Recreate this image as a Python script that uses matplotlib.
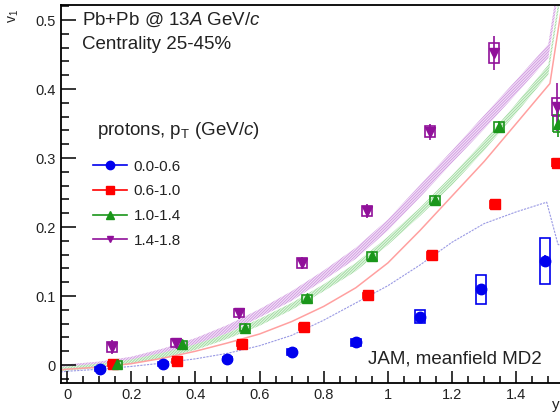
import matplotlib
matplotlib.use("Agg")
import matplotlib.pyplot as plt
from matplotlib.lines import Line2D
from matplotlib.patches import Rectangle
from matplotlib.ticker import MultipleLocator, FuncFormatter
import numpy as np

plt.rcParams['font.family'] = ['Liberation Sans', 'DejaVu Sans']
plt.rcParams['mathtext.fontset'] = 'custom'
plt.rcParams['mathtext.rm'] = 'Liberation Sans'
plt.rcParams['mathtext.it'] = 'Liberation Sans:italic'
plt.rcParams['mathtext.bf'] = 'Liberation Sans:bold'
plt.rcParams['hatch.linewidth'] = 0.6

# ---- measured v1 of protons vs rapidity, four pT bins ----
labels = ['0.0-0.6', '0.6-1.0', '1.0-1.4', '1.4-1.8']

blue_x = [0.103, 0.30, 0.50, 0.70, 0.90, 1.10, 1.29, 1.49]
blue_y = [-0.006, 0.001, 0.009, 0.019, 0.033, 0.070, 0.110, 0.151]
blue_stat = [0.002, 0.002, 0.002, 0.002, 0.003, 0.004, 0.006, 0.008]
blue_sys = [0.003, 0.003, 0.003, 0.004, 0.005, 0.0095, 0.021, 0.033]

red_x = [0.143, 0.343, 0.545, 0.738, 0.938, 1.137, 1.333, 1.526]
red_y = [0.001, 0.006, 0.030, 0.055, 0.101, 0.159, 0.233, 0.293]
red_stat = [0.002, 0.002, 0.003, 0.003, 0.003, 0.004, 0.005, 0.006]
red_sys = [0.003, 0.003, 0.003, 0.004, 0.004, 0.005, 0.005, 0.006]

green_x = [0.156, 0.358, 0.555, 0.748, 0.95, 1.146, 1.346, 1.53]
green_y = [0.001, 0.030, 0.054, 0.097, 0.158, 0.239, 0.345, 0.350]
green_stat = [0.003, 0.003, 0.004, 0.004, 0.005, 0.006, 0.008, 0.020]
green_sys = [0.005, 0.005, 0.005, 0.005, 0.006, 0.006, 0.007, 0.012]

purple_x = [0.14, 0.34, 0.536, 0.732, 0.935, 1.131, 1.33, 1.527]
purple_y = [0.026, 0.032, 0.075, 0.148, 0.223, 0.338, 0.452, 0.374]
purple_stat = [0.010, 0.006, 0.008, 0.009, 0.010, 0.012, 0.025, 0.035]
purple_sys = [0.007, 0.006, 0.006, 0.007, 0.007, 0.008, 0.0145, 0.013]

# ---- JAM (meanfield MD2) model curves ----
jam_purple_x = [-0.02, 0.0, 0.1, 0.2, 0.3, 0.4, 0.5, 0.6, 0.7, 0.8, 0.9, 1.0, 1.1, 1.2, 1.3, 1.4, 1.5, 1.535, 1.6]
jam_purple_y = [-0.004, -0.003, 0.001, 0.008, 0.019, 0.034, 0.052, 0.075, 0.100, 0.130, 0.162, 0.203, 0.252, 0.302, 0.352, 0.403, 0.455, 0.56, 0.60]
jam_purple_w = [0.004, 0.004, 0.004, 0.004, 0.005, 0.005, 0.006, 0.006, 0.007, 0.007, 0.008, 0.008, 0.009, 0.009, 0.010, 0.010, 0.010, 0.010, 0.010]

jam_green_x = [-0.02, 0.0, 0.1, 0.2, 0.3, 0.4, 0.5, 0.6, 0.7, 0.8, 0.9, 1.0, 1.1, 1.2, 1.3, 1.4, 1.5, 1.545, 1.6]
jam_green_y = [-0.006, -0.005, -0.001, 0.005, 0.014, 0.026, 0.042, 0.062, 0.085, 0.112, 0.142, 0.180, 0.222, 0.268, 0.318, 0.372, 0.428, 0.56, 0.60]
jam_green_w = [0.003, 0.003, 0.003, 0.003, 0.004, 0.004, 0.004, 0.005, 0.005, 0.005, 0.006, 0.006, 0.006, 0.007, 0.007, 0.007, 0.007, 0.007, 0.007]

jam_red_x = [-0.02, 0.0, 0.1, 0.2, 0.3, 0.4, 0.5, 0.6, 0.7, 0.8, 0.9, 1.0, 1.1, 1.2, 1.3, 1.4, 1.505, 1.555, 1.6]
jam_red_y = [-0.007, -0.006, -0.003, 0.002, 0.010, 0.020, 0.032, 0.045, 0.063, 0.085, 0.112, 0.148, 0.195, 0.245, 0.295, 0.350, 0.408, 0.56, 0.60]

jam_blue_x = [-0.02, 0.0, 0.1, 0.2, 0.3, 0.4, 0.5, 0.6, 0.7, 0.8, 0.9, 1.0, 1.1, 1.2, 1.3, 1.4, 1.495, 1.53, 1.6]
jam_blue_y = [-0.010, -0.009, -0.006, -0.002, 0.003, 0.009, 0.017, 0.028, 0.043, 0.065, 0.090, 0.115, 0.145, 0.178, 0.205, 0.222, 0.236, 0.175, 0.160]

C_BLUE = '#0000ee'
C_RED = '#ff0000'
C_GREEN = '#1a961a'
C_PURPLE = '#90109a'

fig = plt.figure(figsize=(5.6, 4.16), dpi=100)
ax = fig.add_axes([61 / 560, 33 / 416, 513 / 560, 378.5 / 416])
ax.set_xlim(-0.0187, 1.58)
ax.set_ylim(-0.026, 0.5225)

# model bands
def band(xs, ys, ws, face, hatch_col):
    xs = np.asarray(xs); ys = np.asarray(ys); ws = np.asarray(ws)
    ax.fill_between(xs, ys - ws, ys + ws, facecolor=face, linewidth=0, zorder=1)
    ax.fill_between(xs, ys - ws, ys + ws, facecolor='none', edgecolor=hatch_col,
                    hatch='/' * 12, linewidth=0, zorder=1)

band(jam_purple_x, jam_purple_y, jam_purple_w, '#f3e2f7', '#cf98e0')
band(jam_green_x, jam_green_y, jam_green_w, '#e4f5e4', '#9cda9c')
ax.plot(jam_red_x, jam_red_y, color='#ffa0a0', lw=1.1, zorder=1)
ax.plot(jam_blue_x, jam_blue_y, color='#9a9ae4', lw=0.8, ls=(0, (2, 1)), zorder=1)

# data with stat. bars and sys. boxes
series = [
    (blue_x, blue_y, blue_stat, blue_sys, C_BLUE, 'o', 7.5),
    (red_x, red_y, red_stat, red_sys, C_RED, 's', 7.5),
    (green_x, green_y, green_stat, green_sys, C_GREEN, '^', 7),
    (purple_x, purple_y, purple_stat, purple_sys, C_PURPLE, 'v', 6.5),
]
handles = []
for (xs, ys, st, sy, col, mk, ms), lab in zip(series, labels):
    for x, y, s in zip(xs, ys, sy):
        ax.add_patch(Rectangle((x - 0.015, y - s), 0.030, 2 * s, fill=False,
                               edgecolor=col, lw=1.2, zorder=3))
    ax.errorbar(xs, ys, yerr=st, fmt=mk, color=col, ms=ms, mec=col,
                elinewidth=1.2, capsize=0, zorder=4)
    handles.append(Line2D([0], [0], color=col, marker=mk, ms=ms - 1.5, lw=1.2, label=lab))

leg = ax.legend(handles=handles, loc='upper left', bbox_to_anchor=(0.0624, 0.590),
                frameon=False, fontsize=11, handlelength=2.2, handletextpad=0.45,
                labelspacing=0.70, borderpad=0, borderaxespad=0)
for t in leg.get_texts():
    t.set_color('#222222')

# frame and ticks
for s in ax.spines.values():
    s.set_linewidth(1.3)
ax.xaxis.set_major_locator(MultipleLocator(0.2))
ax.xaxis.set_minor_locator(MultipleLocator(0.05))
ax.yaxis.set_major_locator(MultipleLocator(0.1))
ax.yaxis.set_minor_locator(MultipleLocator(0.02))
fmt = FuncFormatter(lambda v, p: '%g' % round(v, 3))
ax.xaxis.set_major_formatter(fmt)
ax.yaxis.set_major_formatter(fmt)
ax.tick_params(axis='both', which='both', direction='in', top=False, right=False,
               labelsize=10.5, labelcolor='#222222', width=1.1)
ax.tick_params(axis='y', which='major', length=11, pad=4)
ax.tick_params(axis='y', which='minor', length=5.5)
ax.tick_params(axis='x', which='major', length=8.5, pad=3.5)
ax.tick_params(axis='x', which='minor', length=5)

# annotations
txt = dict(transform=ax.transAxes, fontsize=13.5, color='#222222', va='center', ha='left')
ax.text(0.041, 0.959, 'Pb+Pb @ 13$A$ GeV/$c$', **txt)
ax.text(0.041, 0.893, 'Centrality 25-45%', **txt)
ax.text(0.070, 0.668, 'protons, p$_\\mathrm{T}$ (GeV/$c$)', **txt)
ax.text(0.598, 0.0634, 'JAM, meanfield MD2', **txt)

fig.text(14 / 560, 1 - 16 / 416, 'v$_1$', rotation=90, ha='center', va='center',
         fontsize=10, color='#222222')
fig.text(552 / 560, 4 / 416, 'y', ha='left', va='bottom', fontsize=11, color='#222222')

fig.savefig('out.png', dpi=100)
